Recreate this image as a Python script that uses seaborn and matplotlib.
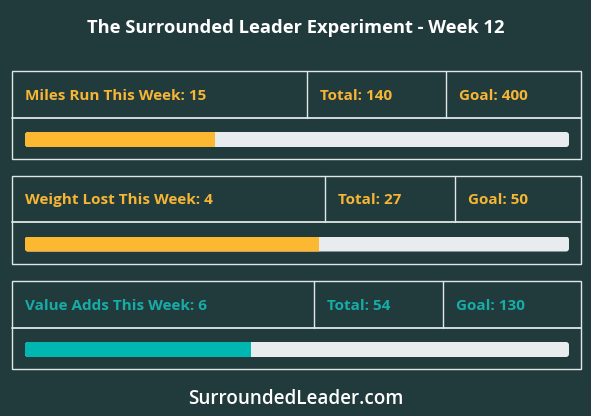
import matplotlib
matplotlib.use("Agg")
import matplotlib.pyplot as plt
from matplotlib.patches import FancyBboxPatch, Rectangle
import seaborn as sns

sns.set_theme(style="white")
plt.rcParams["font.family"] = ["Open Sans", "DejaVu Sans"]

# data
metrics = ["Miles Run", "Weight Lost", "Value Adds"]
this_week = [15, 4, 6]
totals = [140, 27, 54]
goals = [400, 50, 130]

BG = "#213b3c"
LINE = "#dfe7e7"
TRACK = "#e9ecef"
colors = ["#fbb830", "#fbb830", "#00b6b1"]
text_colors = ["#f6b534", "#f6b534", "#17aca7"]

W, H = 591, 416
# panel layout in pixels: top, header divider, bottom, col divider 1, col divider 2
panels = [
    (71, 118, 159, 307, 446),
    (176, 222, 264, 325, 455),
    (281, 328, 369, 314, 443),
]
BOX_L, BOX_R = 12, 581
BAR_L, BAR_R = 25, 569
BAR_H = 15


def main():
    fig = plt.figure(figsize=(W / 100, H / 100), dpi=100, facecolor=BG)
    lay = fig.add_axes([0, 0, 1, 1])
    lay.set_xlim(0, W)
    lay.set_ylim(H, 0)
    lay.axis("off")
    lay.set_facecolor(BG)

    lay.text(W / 2, 28, "The Surrounded Leader Experiment - Week 12", color="white",
             fontsize=13.2, fontweight="bold", ha="center", va="center")
    lay.text(W / 2, 399, "SurroundedLeader.com", color="white",
             fontsize=13.6, fontweight="semibold", ha="center", va="center")

    for i, (top, mid, bot, c1, c2) in enumerate(panels):
        lay.add_patch(Rectangle((BOX_L, top), BOX_R - BOX_L, bot - top, fill=False,
                                edgecolor=LINE, lw=1))
        lay.plot([BOX_L, BOX_R], [mid, mid], color=LINE, lw=1.3)
        lay.plot([c1, c1], [top, mid], color=LINE, lw=1)
        lay.plot([c2, c2], [top, mid], color=LINE, lw=1)

        yc = (top + mid) / 2 + 1
        kw = dict(color=text_colors[i], fontsize=11, fontweight="bold", va="center", ha="left")
        lay.text(25, yc, f"{metrics[i]} This Week: {this_week[i]}", **kw)
        lay.text(c1 + 13, yc, f"Total: {totals[i]}", **kw)
        lay.text(c2 + 13, yc, f"Goal: {goals[i]}", **kw)

        # progress bar
        bar_top = mid + (bot - mid - BAR_H) / 2 + 1
        ax = fig.add_axes([BAR_L / W, (H - bar_top - BAR_H) / H,
                           (BAR_R - BAR_L) / W, BAR_H / H])
        sns.barplot(x=[goals[i]], y=["p"], orient="h", width=1, color=TRACK,
                    saturation=1, linewidth=0, ax=ax)
        sns.barplot(x=[totals[i]], y=["p"], orient="h", width=1, color=colors[i],
                    saturation=1, linewidth=0, ax=ax)
        ax.set_xlim(0, goals[i])
        ax.set_ylim(0.5, -0.5)
        ax.axis("off")
        ax.patch.set_alpha(0)

        # rounded track, fill clipped to it
        track, fill = ax.patches[0], ax.patches[1]
        x0, y0, w, h = track.get_x(), track.get_y(), track.get_width(), track.get_height()
        xpp = goals[i] / (BAR_R - BAR_L)
        ypp = 1 / BAR_H
        rounded = FancyBboxPatch((x0, y0), w, h,
                                 boxstyle=f"round,pad=0,rounding_size={3 * xpp}",
                                 mutation_aspect=ypp / xpp, facecolor=TRACK,
                                 edgecolor="none", zorder=1)
        track.remove()
        ax.add_patch(rounded)
        fill.set_edgecolor("none")
        fill.set_linewidth(0)
        fill.set_zorder(2)
        fill.set_clip_path(rounded)

    fig.savefig("out.png", dpi=100, facecolor=BG)


if __name__ == "__main__": main()
